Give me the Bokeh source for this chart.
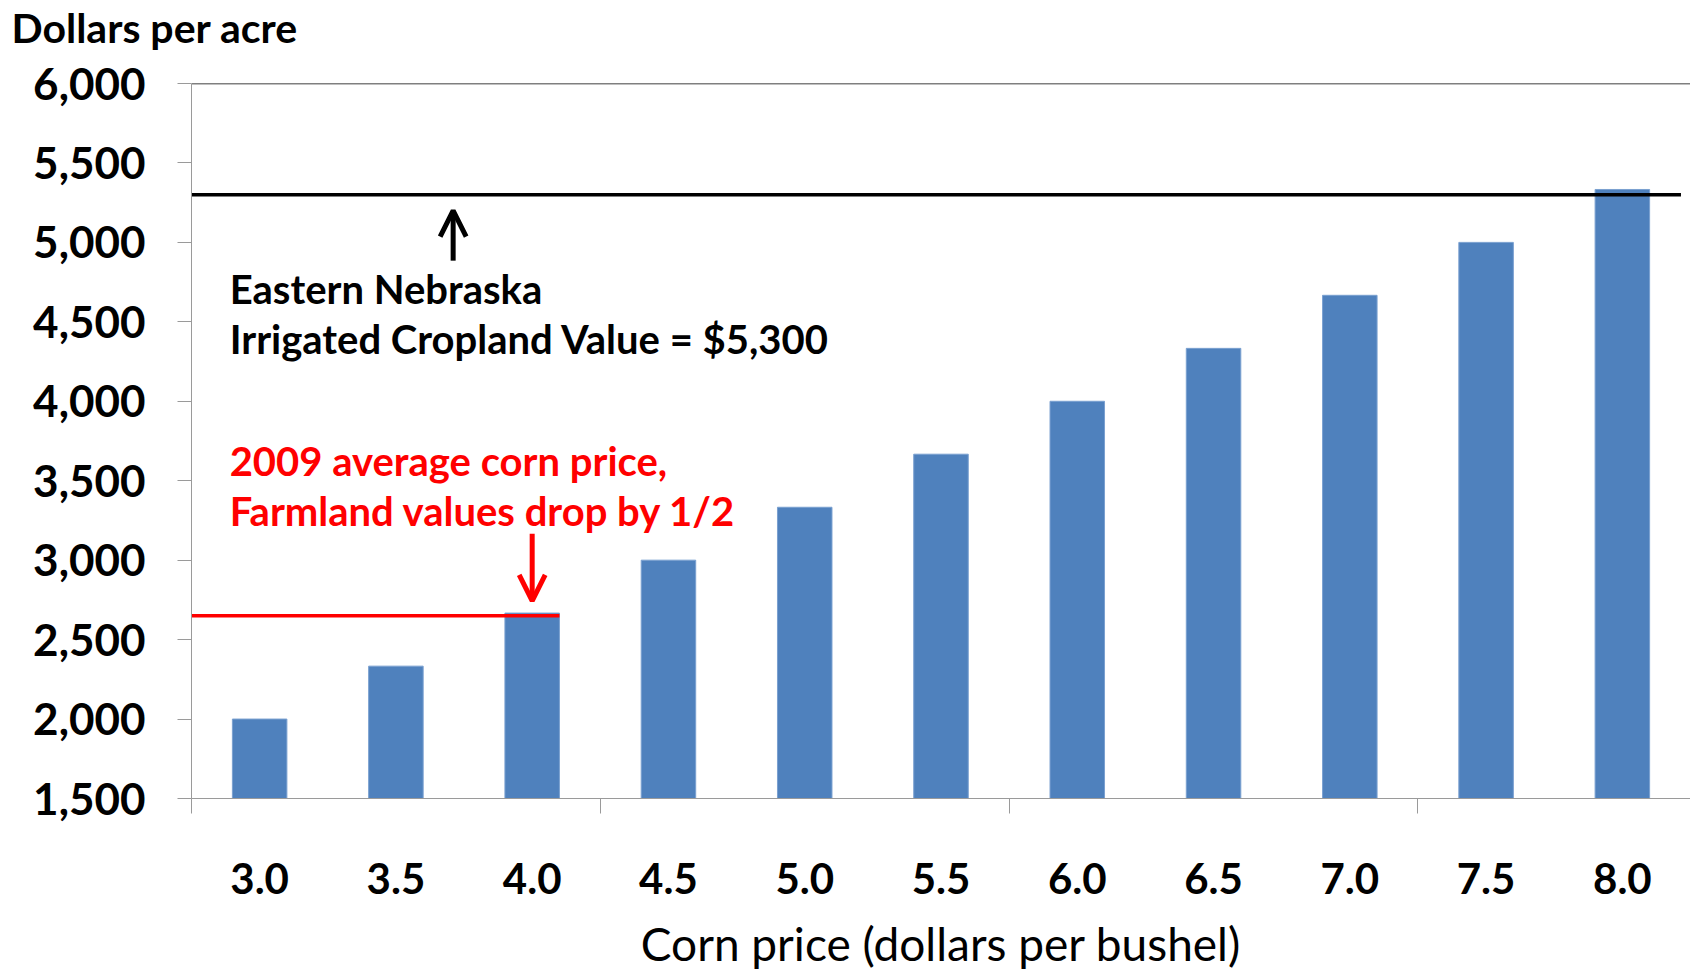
from bokeh.plotting import figure
from bokeh.layouts import column
from bokeh.models import (Range1d, FixedTicker, NumeralTickFormatter,
                          Arrow, OpenHead, ColumnDataSource)
from bokeh.core.properties import value
from bokeh.embed import file_html
from bokeh.resources import INLINE

# ---- data ----
chart_title = "Dollars per acre"
x_title = "Corn price (dollars per bushel)"
corn_prices = ["3.0", "3.5", "4.0", "4.5", "5.0", "5.5", "6.0", "6.5", "7.0", "7.5", "8.0"]
land_values = [2000, 2333, 2667, 3000, 3333, 3667, 4000, 4333, 4667, 5000, 5333]
cropland_value = 5300
drop_value = 2650
y_ticks = [1500, 2000, 2500, 3000, 3500, 4000, 4500, 5000, 5500, 6000]
group_ticks = [0, 3, 6, 9]
ann_black = ["Eastern Nebraska", "Irrigated Cropland Value = $5,300"]
ann_red = ["2009 average corn price,", "Farmland values drop by 1/2"]

FONT = "Lato"
AXIS_GRAY = "#9a9a9a"
W = 1690
TITLE_H = 55

# ---- title strip ----
tp = figure(width=W, height=TITLE_H, output_backend="svg", toolbar_location=None,
            x_range=Range1d(0, W), y_range=Range1d(0, TITLE_H),
            x_axis_location=None, y_axis_location=None, min_border=0)
tp.frame_align = False
tp.grid.visible = False
tp.outline_line_color = None
tp.text(x=[11], y=[TITLE_H - 27], text=[chart_title], text_font=value(FONT),
        text_font_size="41px", text_font_style="bold", text_color="black",
        text_baseline="middle", text_align="left")

# ---- main chart ----
n = len(corn_prices)
centers = [i + 0.5 for i in range(n)]
src = ColumnDataSource(dict(x=centers, top=land_values, label=corn_prices))

p = figure(width=W, height=973 - TITLE_H, output_backend="svg", toolbar_location=None,
           x_range=Range1d(0, 11.0), y_range=Range1d(1500, 6000),
           x_axis_location="below", min_border_left=191, min_border_top=28,
           min_border_right=0, min_border_bottom=175)
p.frame_align = False
p.grid.visible = False
p.outline_line_color = None
p.background_fill_color = "white"

# bars
p.vbar(x="x", top="top", bottom=1500, width=0.4, source=src,
       fill_color="#4F81BD", line_color="#7aa0d0", line_width=1)

# top border line at 6000
p.segment(x0=[0], x1=[11.0], y0=[6000], y1=[6000], line_color="black", line_width=1.3)

# reference lines
p.segment(x0=[0], x1=[10.93], y0=[cropland_value], y1=[cropland_value],
          line_color="black", line_width=3.5)
p.segment(x0=[0], x1=[centers[2] + 0.2], y0=[drop_value], y1=[drop_value],
          line_color="#ff0000", line_width=3.5)

# y axis
ya = p.yaxis[0]
ya.ticker = FixedTicker(ticks=y_ticks)
ya.formatter = NumeralTickFormatter(format="0,0")
ya.major_tick_out = 14
ya.major_tick_in = 0
ya.minor_tick_line_color = None
ya.axis_line_color = AXIS_GRAY
ya.major_tick_line_color = AXIS_GRAY
ya.major_label_text_font = FONT
ya.major_label_text_font_size = "44px"
ya.major_label_text_font_style = "bold"
ya.major_label_text_color = "black"
ya.major_label_standoff = 32

# x axis: labels at category centres, tick marks every 3 categories (minor ticks)
xa = p.xaxis[0]
xa.ticker = FixedTicker(ticks=centers, minor_ticks=group_ticks)
xa.major_label_overrides = {c: l for c, l in zip(centers, corn_prices)}
xa.axis_line_color = AXIS_GRAY
xa.major_tick_line_color = None
xa.major_tick_out = 0
xa.major_tick_in = 0
xa.minor_tick_line_color = AXIS_GRAY
xa.minor_tick_out = 15
xa.minor_tick_in = 0
xa.major_label_text_font = FONT
xa.major_label_text_font_size = "42px"
xa.major_label_text_font_style = "bold"
xa.major_label_text_color = "black"
xa.major_label_standoff = 49
xa.axis_label = x_title
xa.axis_label_text_font = FONT
xa.axis_label_text_font_size = "46px"
xa.axis_label_text_font_style = "normal"
xa.axis_label_text_color = "black"
xa.axis_label_standoff = 19

# annotations
p.text(x=[0.28, 0.28], y=[4709, 4390], text=ann_black, text_font=value(FONT),
       text_font_size="40px", text_font_style="bold", text_color="black",
       text_baseline="middle", text_align="left")
p.text(x=[0.28, 0.28], y=[3623, 3311], text=ann_red, text_font=value(FONT),
       text_font_size="40px", text_font_style="bold", text_color="#ff0000",
       text_baseline="middle", text_align="left")

p.add_layout(Arrow(end=OpenHead(size=26, line_width=5, line_color="black"),
                   x_start=1.92, y_start=4885, x_end=1.92, y_end=5200,
                   line_width=5, line_color="black"))
p.add_layout(Arrow(end=OpenHead(size=26, line_width=5, line_color="#ff0000"),
                   x_start=centers[2], y_start=3166, x_end=centers[2], y_end=2744,
                   line_width=5, line_color="#ff0000"))

layout = column(tp, p, spacing=0)
open("out.html", "w").write(file_html(layout, INLINE))
